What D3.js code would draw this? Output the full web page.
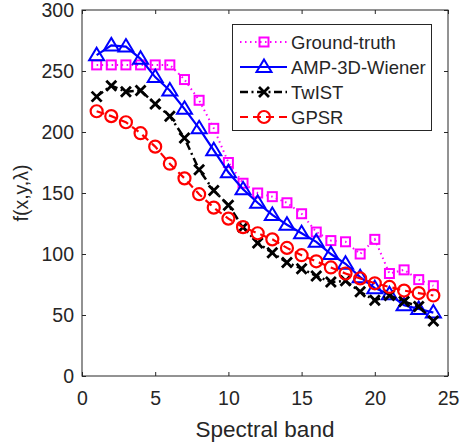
<!DOCTYPE html>
<html>
<head>
<meta charset="utf-8">
<script src="https://cdn.jsdelivr.net/npm/d3@7"></script>
<style>
  body { margin: 0; background: #fff; }
  text { font-family: "Liberation Sans", Arial, sans-serif; fill: #262626; }
</style>
</head>
<body>
<svg></svg>
<script>
const bands = d3.range(1, 25)
const groundTruth = [255, 255, 255, 255, 255, 255, 243, 226, 203, 175, 158, 150, 147, 142, 133, 118, 111, 110, 100, 112, 84, 87, 79, 74]
const amp3d = [263, 271, 270, 260, 245, 234, 219, 203, 185, 167, 153, 142, 132, 124, 117, 110, 100, 92, 81, 72, 67, 58, 55, 52]
const twist = [229, 238, 233, 234, 223, 213, 195, 169, 152, 140, 122, 109, 101, 93, 88, 82, 77, 78, 69, 62, 66, 61, 57, 45]
const gpsr = [217, 213, 208, 199, 188, 174, 162, 149, 138, 129, 122, 117, 112, 105, 99, 94, 89, 84, 80, 76, 73, 70, 68, 66]
const xTicks = [0, 5, 10, 15, 20, 25]
const yTicks = [0, 50, 100, 150, 200, 250, 300]
const names = ['Ground-truth', 'AMP-3D-Wiener', 'TwIST', 'GPSR']

const width = 460
const height = 445
const margin = {left: 82, top: 10, right: 12, bottom: 69}

const svg = d3.select('svg')
    .attr('width', width)
    .attr('height', height)

const x = d3.scaleLinear().domain([0, 25]).range([margin.left, width - margin.right])
const y = d3.scaleLinear().domain([0, 300]).range([height - margin.bottom, margin.top])

// series styles, MATLAB-ish
const series = [
    {name: names[0], values: groundTruth, color: '#ff00ff', dash: '1.5,3.5', marker: 'square', lw: 2},
    {name: names[1], values: amp3d, color: '#0000ff', dash: null, marker: 'triangle', lw: 2.2},
    {name: names[2], values: twist, color: '#000000', dash: '8,3.5,2,3.5', marker: 'cross', lw: 2.5},
    {name: names[3], values: gpsr, color: '#ff0000', dash: '8,5', marker: 'circle', lw: 2.2}
]

// axes with inward ticks on all four sides
const axisColor = '#262626'
svg.append('g')
    .attr('transform', 'translate(0,' + y(0) + ')')
    .call(d3.axisBottom(x).tickValues(xTicks).tickSizeInner(-4).tickSizeOuter(0).tickPadding(15))
svg.append('g')
    .attr('transform', 'translate(0,' + y(300) + ')')
    .call(d3.axisTop(x).tickValues(xTicks).tickSizeInner(-4).tickSizeOuter(0).tickFormat(''))
svg.append('g')
    .attr('transform', 'translate(' + x(0) + ',0)')
    .call(d3.axisLeft(y).tickValues(yTicks).tickSizeInner(-4).tickSizeOuter(0).tickPadding(8))
svg.append('g')
    .attr('transform', 'translate(' + x(25) + ',0)')
    .call(d3.axisRight(y).tickValues(yTicks).tickSizeInner(-4).tickSizeOuter(0).tickFormat(''))

svg.selectAll('.domain').attr('stroke', 'none')
svg.selectAll('.tick line').attr('stroke', axisColor)
svg.selectAll('.tick text')
    .style('font-size', '19.5px')
    .style('font-family', '"Liberation Sans", Arial, sans-serif')
    .attr('fill', axisColor)

svg.append('rect')
    .attr('x', x(0)).attr('y', y(300))
    .attr('width', x(25) - x(0)).attr('height', y(0) - y(300))
    .attr('fill', 'none').attr('stroke', axisColor).attr('stroke-width', 1)

svg.append('text')
    .attr('x', (x(0) + x(25)) / 2)
    .attr('y', 437)
    .attr('text-anchor', 'middle')
    .style('font-size', '22.5px')
    .text('Spectral band')

svg.append('text')
    .attr('transform', 'translate(28,' + (y(150) + 0) + ') rotate(-90)')
    .attr('text-anchor', 'middle')
    .style('font-size', '19.5px')
    .text('f(x,y,λ)')

let drawMarker = (g, type, cx, cy, color) => {
    if (type === 'square') {
        g.append('rect').attr('x', cx - 4.5).attr('y', cy - 4.5).attr('width', 9).attr('height', 9)
            .attr('fill', 'none').attr('stroke', color).attr('stroke-width', 2)
    } else if (type === 'triangle') {
        g.append('path')
            .attr('d', 'M' + cx + ',' + (cy - 7.5) + 'L' + (cx + 7.5) + ',' + (cy + 5) + 'L' + (cx - 7.5) + ',' + (cy + 5) + 'Z')
            .attr('fill', 'none').attr('stroke', color).attr('stroke-width', 2)
    } else if (type === 'cross') {
        g.append('path')
            .attr('d', 'M' + (cx - 5) + ',' + (cy - 5) + 'L' + (cx + 5) + ',' + (cy + 5) + 'M' + (cx + 5) + ',' + (cy - 5) + 'L' + (cx - 5) + ',' + (cy + 5))
            .attr('stroke', color).attr('stroke-width', 2.8)
    } else {
        g.append('circle').attr('cx', cx).attr('cy', cy).attr('r', 6)
            .attr('fill', 'none').attr('stroke', color).attr('stroke-width', 2.2)
    }
}

const line = d3.line()
    .x((d, i) => x(bands[i]))
    .y(d => y(d))

series.forEach(s => {
    const g = svg.append('g')
    g.append('path')
        .datum(s.values)
        .attr('d', line)
        .attr('fill', 'none')
        .attr('stroke', s.color)
        .attr('stroke-width', s.lw)
        .attr('stroke-dasharray', s.dash)
    s.values.forEach((v, i) => drawMarker(g, s.marker, x(bands[i]), y(v), s.color))
})

// legend
const legend = svg.append('g')
legend.append('rect')
    .attr('x', 232.5).attr('y', 24.5).attr('width', 199).attr('height', 106)
    .attr('fill', '#fff').attr('stroke', axisColor).attr('stroke-width', 1)

series.forEach((s, i) => {
    const ly = 42 + i * 25
    legend.append('line')
        .attr('x1', 240).attr('x2', 287).attr('y1', ly).attr('y2', ly)
        .attr('stroke', s.color).attr('stroke-width', s.lw)
        .attr('stroke-dasharray', s.dash)
    drawMarker(legend, s.marker, 264, ly, s.color)
    legend.append('text')
        .attr('x', 291).attr('y', ly + 6.5)
        .style('font-size', '18.5px')
        .text(s.name)
})
</script>
</body>
</html>
